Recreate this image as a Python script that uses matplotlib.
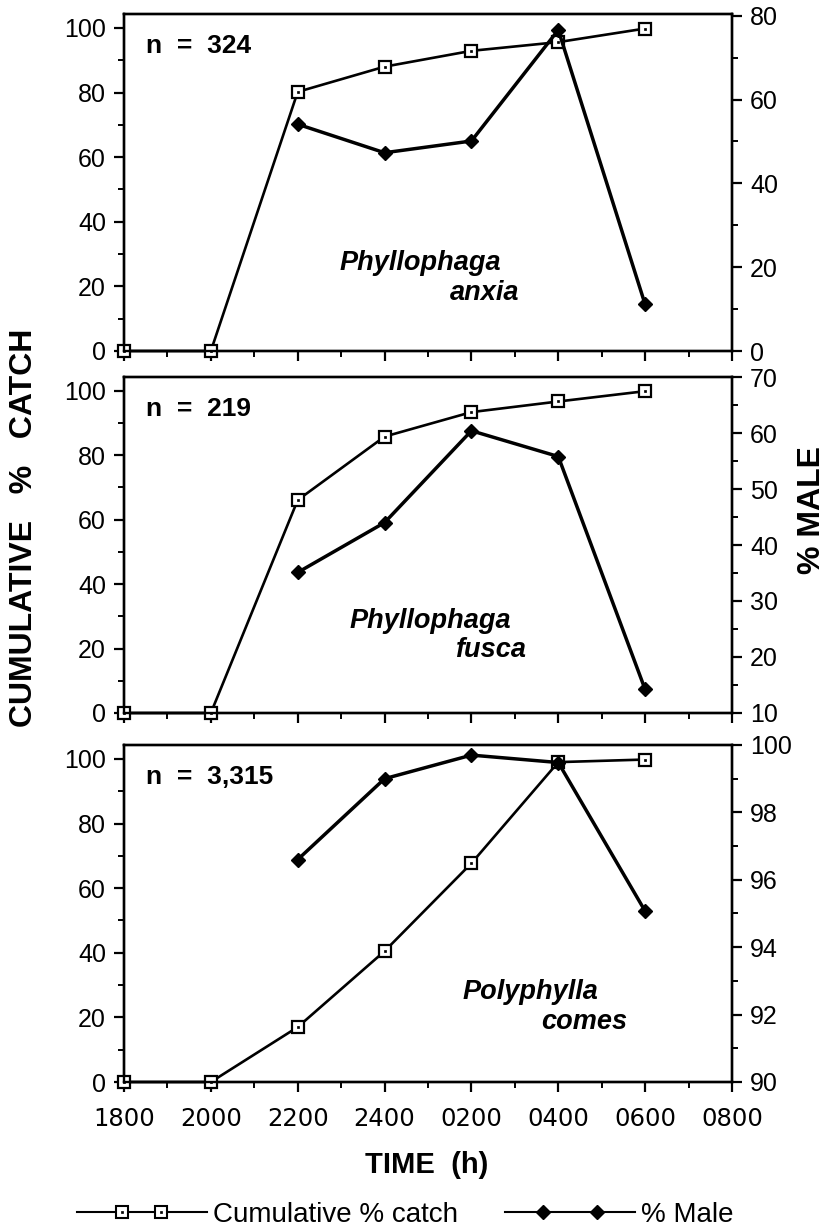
import numpy as np
import matplotlib
matplotlib.use("Agg")
import matplotlib.pyplot as plt
from matplotlib.ticker import MultipleLocator, FixedLocator
from matplotlib.legend_handler import HandlerLine2D, HandlerTuple
from matplotlib.lines import Line2D

# ---------------- data ----------------
times = ["1800", "2000", "2200", "2400", "0200", "0400", "0600", "0800"]
male_times = ["2200", "2400", "0200", "0400", "0600"]

catch_anxia = [0, 0, 80.2, 88.0, 92.9, 95.6, 99.8]
male_anxia = [54.1, 47.3, 50.1, 76.6, 11.1]

catch_fusca = [0, 0, 66.1, 85.8, 93.4, 96.7, 99.9]
male_fusca = [35.1, 44.0, 60.4, 55.8, 14.2]

catch_comes = [0, 0, 17.0, 40.5, 67.7, 99.0, 99.8]
male_comes = [96.6, 99.0, 99.7, 99.48, 95.07]

species_genus = ["Phyllophaga", "Phyllophaga", "Polyphylla"]
species_epithet = ["anxia", "fusca", "comes"]
n_labels = ["n  =  324", "n  =  219", "n  =  3,315"]

# ---------------- styling ----------------
plt.rcParams["font.family"] = ["Liberation Sans", "DejaVu Sans"]
W, H = 840, 1231
fig = plt.figure(figsize=(W / 100, H / 100), dpi=100)

def fx(px):
    return px / W

def fy(py):
    return 1 - py / H

panel_px = [(14, 351), (377, 713), (745, 1082)]
left_px, right_px = 124, 732

right_cfg = [
    dict(lim=(0, 80.4), major=20, minor=10),
    dict(lim=(10, 70), major=10, minor=5),
    dict(lim=(90, 100), major=2, minor=1),
]
catches = [catch_anxia, catch_fusca, catch_comes]
males = [male_anxia, male_fusca, male_comes]
genus_pos = [(0.488, 0.261), (0.504, 0.274), (0.669, 0.268)]
epi_pos = [(0.651, 0.172), (0.661, 0.188), (0.827, 0.178)]

tick_kw_major = dict(direction="out", length=7, width=1.6, labelsize=18, pad=6)
tick_kw_minor = dict(direction="out", length=4.5, width=1.4)

for i in range(3):
    top, bot = panel_px[i]
    ax = fig.add_axes([fx(left_px), fy(bot), fx(right_px - left_px), (bot - top) / H])
    xi = [times.index(t) for t in times[:len(catches[i])]]
    ax.plot(xi, catches[i], "-", color="k", lw=1.9, marker="s", ms=8,
            mfc="white", mec="k", mew=1.6, clip_on=False, zorder=3)
    ax.plot(xi, catches[i], ls="none", marker="s", ms=1.8, mfc="k",
            mec="k", mew=0.5, clip_on=False, zorder=4)
    ax.set_xlim(0, len(times) - 1)
    ax.set_ylim(0, 104.3)
    ax.xaxis.set_major_locator(FixedLocator(range(len(times))))
    ax.xaxis.set_minor_locator(MultipleLocator(0.5))
    ax.yaxis.set_major_locator(MultipleLocator(20))
    ax.yaxis.set_minor_locator(MultipleLocator(10))
    ax.tick_params(which="major", **tick_kw_major)
    ax.tick_params(which="minor", **tick_kw_minor)
    for s in ax.spines.values():
        s.set_linewidth(1.7)
    if i == 2:
        ax.set_xticks(range(len(times)))
        ax.set_xticklabels(times, fontfamily="DejaVu Sans", fontsize=17.5)
        ax.tick_params(axis="x", which="major", pad=11)
    else:
        ax.tick_params(axis="x", labelbottom=False)

    ax2 = ax.twinx()
    xm = [times.index(t) for t in male_times]
    ax2.plot(xm, males[i], "-", color="k", lw=2.5, marker="D", ms=7.5,
             mfc="k", mec="k", clip_on=False, zorder=5)
    cfg = right_cfg[i]
    ax2.set_ylim(*cfg["lim"])
    ax2.yaxis.set_major_locator(MultipleLocator(cfg["major"]))
    ax2.yaxis.set_minor_locator(MultipleLocator(cfg["minor"]))
    ax2.tick_params(which="major", **tick_kw_major)
    ax2.tick_params(which="minor", **tick_kw_minor)
    for s in ax2.spines.values():
        s.set_linewidth(1.7)

    ax.text(0.037, 0.905, n_labels[i], transform=ax.transAxes, fontsize=19,
            fontweight="bold", ha="left", va="center")
    ax.text(genus_pos[i][0], genus_pos[i][1], species_genus[i], transform=ax.transAxes,
            fontsize=19.5, fontweight="bold", fontstyle="italic", ha="center", va="center")
    ax.text(epi_pos[i][0], epi_pos[i][1], species_epithet[i], transform=ax.transAxes,
            fontsize=19.5, fontweight="bold", fontstyle="italic", ha="right", va="center")

# axis titles
fig.text(fx(24), fy(528), "CUMULATIVE   %   CATCH", rotation=90, fontsize=23,
         fontweight="bold", ha="center", va="center")
fig.text(fx(812), fy(510), "% MALE", rotation=90, fontsize=23,
         fontweight="bold", ha="center", va="center")
fig.text(fx(427), fy(1165), "TIME  (h)", fontsize=21, fontweight="bold",
         ha="center", va="center")

# legend (proxy artists: full-width line + inset markers)
line_a = Line2D([], [], color="k", lw=1.5)
sq_a = Line2D([], [], ls="none", marker="s", ms=8, mfc="white", mec="k", mew=1.5)
dot_a = Line2D([], [], ls="none", marker="s", ms=1.8, mfc="k", mec="k", mew=0.5)
line_b = Line2D([], [], color="k", lw=1.5)
dia_b = Line2D([], [], ls="none", marker="D", ms=7.5, mfc="k", mec="k")

hm = {
    line_a: HandlerLine2D(marker_pad=0, numpoints=2),
    line_b: HandlerLine2D(marker_pad=0, numpoints=2),
    sq_a: HandlerLine2D(marker_pad=1.65, numpoints=2),
    dot_a: HandlerLine2D(marker_pad=1.65, numpoints=2),
    dia_b: HandlerLine2D(marker_pad=1.37, numpoints=2),
    tuple: HandlerTuple(ndivide=1, pad=0),
}
leg = fig.legend(
    [(line_a, sq_a, dot_a), (line_b, dia_b)], ["Cumulative % catch", "% Male"],
    handler_map=hm,
    loc="center", bbox_to_anchor=(fx(405), fy(1215)), ncol=2, frameon=False,
    fontsize=20, handlelength=4.7, handletextpad=0.2, columnspacing=1.7,
    borderpad=0.2)

fig.savefig("out.png", dpi=100)
